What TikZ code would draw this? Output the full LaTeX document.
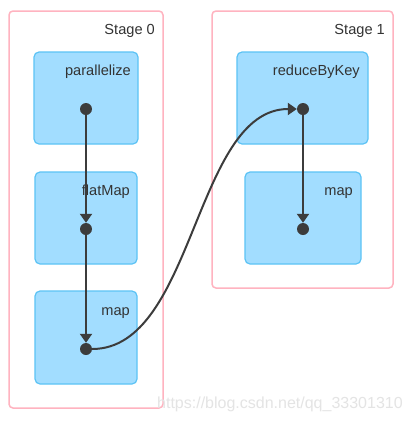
\documentclass[tikz,border=0pt]{standalone}
\usepackage{fontspec}
\setmainfont{Liberation Sans}
\usetikzlibrary{arrows.meta}
\definecolor{stageline}{HTML}{FFB3C0}
\definecolor{boxfill}{HTML}{A2DDFF}
\definecolor{boxline}{HTML}{5CC3F5}
\definecolor{ink}{HTML}{3C3C3C}
\definecolor{txt}{HTML}{333333}
\definecolor{wm}{HTML}{E4E4E4}
\tikzset{
  stagebox/.style={draw=stageline, line width=1.5pt, rounded corners=4pt, fill=white, inner sep=0pt},
  opbox/.style={draw=boxline, fill=boxfill, line width=1.2pt, rounded corners=5pt, inner sep=0pt},
  lbl/.style={anchor=base east, inner sep=0pt, text=txt, font=\fontsize{14.6}{16}\selectfont},
  dot/.style={circle, fill=ink, inner sep=0pt, minimum size=12pt},
  edge/.style={draw=ink, line width=2pt, -{Triangle[length=9pt,width=12pt]}},
}
\begin{document}
\begin{tikzpicture}[x=1pt,y=-1pt]
\useasboundingbox (0,0) rectangle (409,421);
\fill[white] (0,0) rectangle (409,421);
% stages
\node[stagebox, minimum width=154pt, minimum height=397pt] (s0) at (86,209.5) {};
\node[stagebox, minimum width=181pt, minimum height=277pt] (s1) at (302.5,149.5) {};
\node[lbl] (s0l) at (155,34) {Stage 0};
\node[lbl] (s1l) at (385,34) {Stage 1};
% operation boxes
\node[opbox, minimum width=104pt, minimum height=92pt] (b1) at (86,98) {};
\node[opbox, minimum width=102pt, minimum height=92pt] (b2) at (86,218) {};
\node[opbox, minimum width=102pt, minimum height=93pt] (b3) at (86,337.5) {};
\node[opbox, minimum width=131pt, minimum height=92pt] (b4) at (302.5,98) {};
\node[opbox, minimum width=116pt, minimum height=92pt] (b5) at (303,218) {};
\node[lbl] (t1) at (131,75) {parallelize};
\node[lbl] (t2) at (130,195) {flatMap};
\node[lbl] (t3) at (130,315) {map};
\node[lbl] (t4) at (360,75) {reduceByKey};
\node[lbl] (t5) at (353,195) {map};
% dots
\node[dot] (d1) at (86,109) {};
\node[dot] (d2) at (86,229) {};
\node[dot] (d3) at (86,349) {};
\node[dot] (d4) at (303,109) {};
\node[dot] (d5) at (303,229) {};
% edges
\draw[edge] (d1) -- (d2);
\draw[edge] (d2) -- (d3);
\draw[edge] (d4) -- (d5);
\draw[edge] (d3.east) .. controls (194.5,349) and (194.5,109) .. (d4.west);
% watermark
\node[anchor=base west, inner sep=0pt, text=wm, font=\fontsize{16}{18}\selectfont] (wmk) at (157,408) {https://blog.csdn.net/qq\_33301310};
\end{tikzpicture}
\end{document}
